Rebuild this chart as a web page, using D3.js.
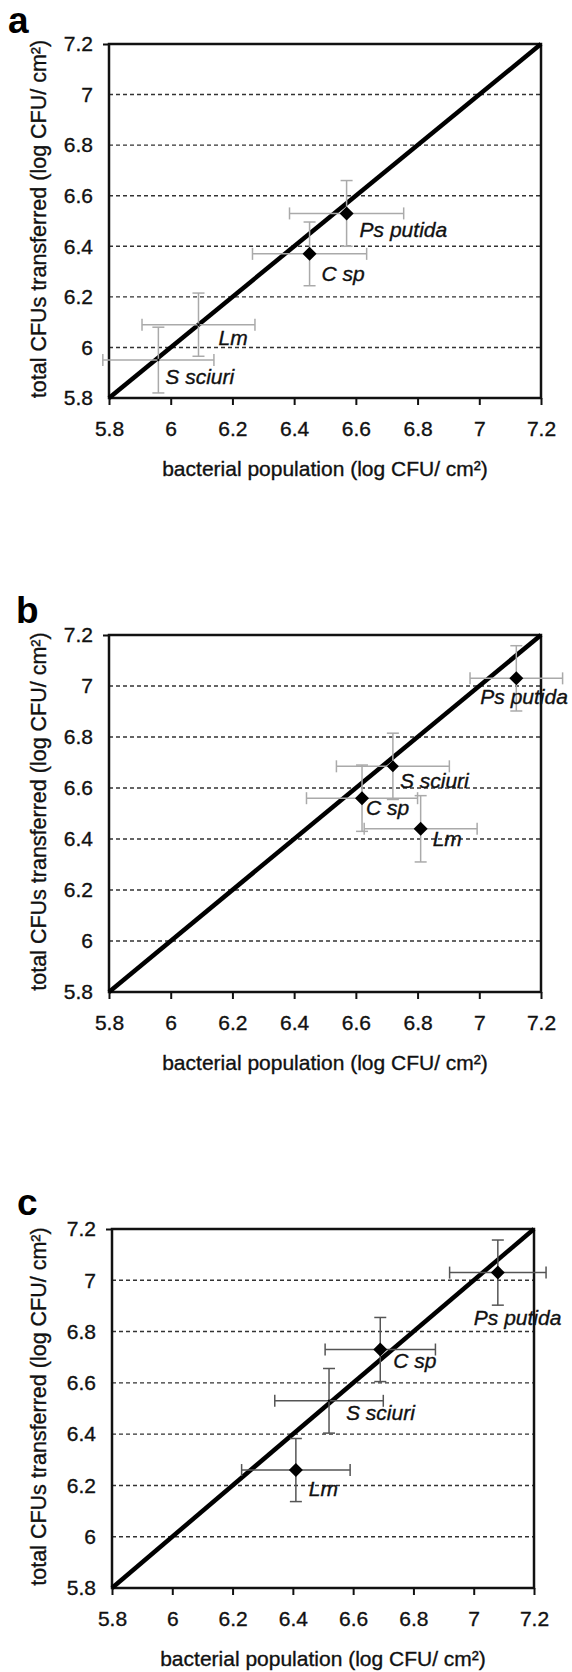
<!DOCTYPE html>
<html>
<head>
<meta charset="utf-8">
<script src="https://cdn.jsdelivr.net/npm/d3@7"></script>
<style>
  body { margin: 0; background: #fff; }
  svg { display: block; font-family: "Liberation Sans", Arial, sans-serif; }
</style>
</head>
<body>
<svg id="fig" width="572" height="1672"></svg>
<script>
// strains, same order in every panel
const strains = ["Ps putida", "C sp", "Lm", "S sciuri"];

// axis ticks (log CFU/cm2), shared by both axes
const tickValues = [5.8, 6, 6.2, 6.4, 6.6, 6.8, 7, 7.2];
const gridValues = [6, 6.2, 6.4, 6.6, 6.8, 7];

// panel a
const popA = [6.57, 6.45, 6.09, 5.96];
const transA = [6.53, 6.37, 6.09, 5.95];
const popErrA = [0.185, 0.185, 0.183, 0.18];
const transErrA = [0.13, 0.126, 0.125, 0.13];

// panel b
const popB = [7.12, 6.62, 6.81, 6.72];
const transB = [7.03, 6.56, 6.44, 6.685];
const popErrB = [0.15, 0.18, 0.183, 0.183];
const transErrB = [0.128, 0.13, 0.13, 0.13];

// panel c
const popC = [7.08, 6.69, 6.41, 6.52];
const transC = [7.03, 6.73, 6.26, 6.53];
const popErrC = [0.16, 0.183, 0.18, 0.18];
const transErrC = [0.127, 0.125, 0.123, 0.126];

const xTitle = "bacterial population (log CFU/ cm\u00b2)";
const yTitle = "total CFUs transferred (log CFU/ cm\u00b2)";

// layout per panel: plot box, label offsets, error bar colour, marker radius
const panels = [
  { letter: "a", pop: popA, trans: transA, popErr: popErrA, transErr: transErrA,
    box: { x0: 109, x1: 541, y0: 44, y1: 398 }, letterPos: [8, 33],
    errColor: "#aaa", markR: [7, 7, 1.5, 1.5],
    lab: [[13, 24], [12, 27], [20, 20], [7, 24]] },
  { letter: "b", pop: popB, trans: transB, popErr: popErrB, transErr: transErrB,
    box: { x0: 109, x1: 541, y0: 635, y1: 992 }, letterPos: [16, 623],
    errColor: "#aaa", markR: [7, 7, 7, 6],
    lab: [[-36, 26], [4, 17], [12, 17], [7, 22]] },
  { letter: "c", pop: popC, trans: transC, popErr: popErrC, transErr: transErrC,
    box: { x0: 112, x1: 534, y0: 1229, y1: 1588 }, letterPos: [17, 1215],
    errColor: "#555", markR: [7, 7, 7, 1.5],
    lab: [[-24, 52], [13, 18], [13, 26], [17, 19]] }
];

const svg = d3.select("#fig");
const fontSize = 21;

panels.forEach(p => draw(p));

// slightly heavier text, like a scanned print
function ink(sel) {
  return sel.attr("fill", "#111").attr("stroke", "#111").attr("stroke-width", 0.35);
}

function draw(p) {
  const b = p.box;
  const x = d3.scaleLinear().domain([5.8, 7.2]).range([b.x0, b.x1]);
  const y = d3.scaleLinear().domain([5.8, 7.2]).range([b.y1, b.y0]);
  const g = svg.append("g");

  // dashed horizontal gridlines
  g.append("g")
    .selectAll("line")
    .data(gridValues)
    .join("line")
    .attr("x1", b.x0).attr("x2", b.x1)
    .attr("y1", d => y(d)).attr("y2", d => y(d))
    .attr("stroke", "#333")
    .attr("stroke-width", 1.4)
    .attr("stroke-dasharray", "4,3");

  // axes
  const xAxis = g.append("g")
    .attr("transform", `translate(0,${b.y1})`)
    .call(d3.axisBottom(x).tickValues(tickValues).tickSize(7).tickPadding(16).tickFormat(d => String(d)));
  const yAxis = g.append("g")
    .attr("transform", `translate(${b.x0},0)`)
    .call(d3.axisLeft(y).tickValues([7.2]).tickSize(6).tickPadding(10).tickFormat(d => String(d)));
  const yLabels = g.append("g")
    .attr("transform", `translate(${b.x0},0)`)
    .call(d3.axisLeft(y).tickValues(tickValues).tickSize(0).tickPadding(16).tickFormat(d => String(d)));
  yAxis.selectAll("text").remove();
  [xAxis, yAxis, yLabels].forEach(a => {
    a.selectAll("text")
      .attr("font-size", fontSize)
      .attr("font-family", "Liberation Sans, Arial, sans-serif")
      .call(ink);
    a.selectAll("line").attr("stroke", "#111").attr("stroke-width", 2);
    a.select(".domain").remove();
  });

  // plot frame
  g.append("rect")
    .attr("x", b.x0).attr("y", b.y0)
    .attr("width", b.x1 - b.x0).attr("height", b.y1 - b.y0)
    .attr("fill", "none")
    .attr("stroke", "#111")
    .attr("stroke-width", 2.5);

  // line of equality
  g.append("line")
    .attr("x1", x(5.8)).attr("y1", y(5.8))
    .attr("x2", x(7.2)).attr("y2", y(7.2))
    .attr("stroke", "#000")
    .attr("stroke-width", 4.5);

  const pts = strains.map((s, i) => ({
    name: s, px: p.pop[i], ty: p.trans[i], ex: p.popErr[i], ey: p.transErr[i],
    r: p.markR[i], lab: p.lab[i]
  }));

  const cap = 6;
  const err = g.append("g")
    .attr("stroke", p.errColor)
    .attr("stroke-width", 1.5)
    .selectAll("g")
    .data(pts)
    .join("g");
  // horizontal bars
  err.append("line")
    .attr("x1", d => x(d.px - d.ex)).attr("x2", d => x(d.px + d.ex))
    .attr("y1", d => y(d.ty)).attr("y2", d => y(d.ty));
  err.append("line")
    .attr("x1", d => x(d.px - d.ex)).attr("x2", d => x(d.px - d.ex))
    .attr("y1", d => y(d.ty) - cap).attr("y2", d => y(d.ty) + cap);
  err.append("line")
    .attr("x1", d => x(d.px + d.ex)).attr("x2", d => x(d.px + d.ex))
    .attr("y1", d => y(d.ty) - cap).attr("y2", d => y(d.ty) + cap);
  // vertical bars
  err.append("line")
    .attr("x1", d => x(d.px)).attr("x2", d => x(d.px))
    .attr("y1", d => y(d.ty - d.ey)).attr("y2", d => y(d.ty + d.ey));
  err.append("line")
    .attr("x1", d => x(d.px) - cap).attr("x2", d => x(d.px) + cap)
    .attr("y1", d => y(d.ty + d.ey)).attr("y2", d => y(d.ty + d.ey));
  err.append("line")
    .attr("x1", d => x(d.px) - cap).attr("x2", d => x(d.px) + cap)
    .attr("y1", d => y(d.ty - d.ey)).attr("y2", d => y(d.ty - d.ey));

  // diamond markers
  g.append("g")
    .selectAll("path")
    .data(pts)
    .join("path")
    .attr("transform", d => `translate(${x(d.px)},${y(d.ty)})`)
    .attr("d", d => `M0,${-d.r}L${d.r},0L0,${d.r}L${-d.r},0Z`)
    .attr("fill", "#000");

  // strain labels
  g.append("g")
    .selectAll("text")
    .data(pts)
    .join("text")
    .attr("x", d => x(d.px) + d.lab[0])
    .attr("y", d => y(d.ty) + d.lab[1])
    .attr("font-size", fontSize)
    .attr("font-style", "italic")
    .call(ink)
    .text(d => d.name);

  // axis titles
  g.append("text")
    .attr("x", (b.x0 + b.x1) / 2)
    .attr("y", b.y1 + 78)
    .attr("text-anchor", "middle")
    .attr("font-size", fontSize)
    .call(ink)
    .text(xTitle);
  g.append("text")
    .attr("transform", `translate(46,${(b.y0 + b.y1) / 2 - 2}) rotate(-90)`)
    .attr("text-anchor", "middle")
    .attr("font-size", 21.5)
    .call(ink)
    .text(yTitle);

  // panel letter
  svg.append("text")
    .attr("x", p.letterPos[0]).attr("y", p.letterPos[1])
    .attr("font-size", 37)
    .attr("font-weight", "bold")
    .attr("fill", "#000")
    .text(p.letter);
}
</script>
</body>
</html>
